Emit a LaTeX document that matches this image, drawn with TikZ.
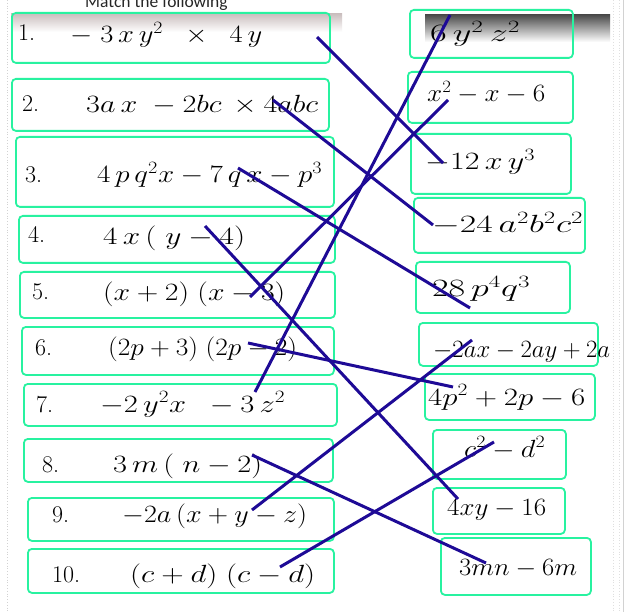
\documentclass[tikz,border=0pt]{standalone}
\usepackage{graphicx}
\usepackage{fontspec}
\newfontfamily\titlefont{Carlito}
\definecolor{boxgreen}{RGB}{40,242,160}
\definecolor{linkblue}{RGB}{30,10,150}
\newcommand{\fw}[2]{\resizebox{#1pt}{\height}{$#2$}}
\begin{document}
\begin{tikzpicture}[x=1pt,y=-1pt,
  gbox/.style={draw=boxgreen, line width=1.8pt, rounded corners=4pt, anchor=north west, inner sep=0pt},
  expr/.style={anchor=base west, inner sep=0pt, font=\fontsize{24}{28}\selectfont},
  link/.style={draw=linkblue, line width=3pt},
  banner/.style={top color=#1, bottom color=white, draw=none}]
\clip (0,0) rectangle (629,612);
\fill[white] (0,0) rectangle (629,612);
% scan artefacts
\draw[gray!35, dotted, line width=0.8pt] (7,0) -- (7,612);
\draw[gray!25, dotted, line width=0.8pt] (613,0) -- (613,612);
\draw[gray!25, dotted, line width=0.8pt] (619,0) -- (619,612);
\draw[gray!35, line width=0.8pt] (623,0) -- (623,612);
\shade[banner=red!10!gray!45] (11,14) rectangle (342,32);
\shade[banner=black!70] (425,15) rectangle (610,42);
% title
\node[anchor=base west, inner sep=0pt, font=\titlefont\fontsize{17.5}{20}\selectfont, text=black!85] (title) at (85,8) {Match the following};
% left boxes
\node[gbox, minimum width=318pt, minimum height=50pt] (L1) at (11,12) {};
\node[gbox, minimum width=317pt, minimum height=52pt] (L2) at (11,78) {};
\node[gbox, minimum width=318pt, minimum height=70pt] (L3) at (15,136) {};
\node[gbox, minimum width=316pt, minimum height=47pt] (L4) at (18,215) {};
\node[gbox, minimum width=315pt, minimum height=46pt] (L5) at (19,271) {};
\node[gbox, minimum width=312pt, minimum height=48pt] (L6) at (21,326) {};
\node[gbox, minimum width=313pt, minimum height=42pt] (L7) at (23,383) {};
\node[gbox, minimum width=309pt, minimum height=43pt] (L8) at (23,438) {};
\node[gbox, minimum width=306pt, minimum height=43pt] (L9) at (27,497) {};
\node[gbox, minimum width=306pt, minimum height=44pt] (L10) at (27,548) {};
% right boxes
\node[gbox, minimum width=163pt, minimum height=48pt] (R1) at (409,9) {};
\node[gbox, minimum width=165pt, minimum height=51pt] (R2) at (407,71) {};
\node[gbox, minimum width=160pt, minimum height=60pt] (R3) at (410,133) {};
\node[gbox, minimum width=171pt, minimum height=55pt] (R4) at (413,197) {};
\node[gbox, minimum width=154pt, minimum height=51pt] (R5) at (415,261) {};
\node[gbox, minimum width=179pt, minimum height=43pt] (R6) at (418,322) {};
\node[gbox, minimum width=170pt, minimum height=46pt] (R7) at (424,373) {};
\node[gbox, minimum width=133pt, minimum height=49pt] (R8) at (432,429) {};
\node[gbox, minimum width=132pt, minimum height=46pt] (R9) at (432,487) {};
\node[gbox, minimum width=150pt, minimum height=57pt] (R10) at (440,537) {};
% numbers
\node[expr] (n1) at (18,41) {1.};
\node[expr] (n2) at (22,112) {2.};
\node[expr] (n3) at (25,183) {3.};
\node[expr] (n4) at (28,243) {4.};
\node[expr] (n5) at (32,300) {5.};
\node[expr] (n6) at (35,355) {6.};
\node[expr] (n7) at (36,412) {7.};
\node[expr] (n8) at (42,472) {8.};
\node[expr] (n9) at (52,522) {9.};
\node[expr] (n10) at (52,582) {10.};
% left expressions
\node[expr] (e1) at (70,43) {\fw{192}{-\;3\,x\,y^2\;\;\times\;\;4\,y}};
\node[expr] (e2) at (86,113) {\fw{232}{3a\,x\;-2bc\,\times 4abc}};
\node[expr] (e3) at (97,183) {\fw{225}{4\,p\,q^2x-7\,q\,x-p^3}};
\node[expr] (e4) at (103,245) {\fw{142}{4\,x\,(\;y-4)}};
\node[expr] (e5) at (103,300) {\fw{182}{(x+2)\;(x-3)}};
\node[expr] (e6) at (108,355) {\fw{189}{(2p+3)\;(2p-2)}};
\node[expr] (e7) at (100,412) {\fw{185}{-2\,y^2x\;\;-3\,z^2}};
\node[expr] (e8) at (113,472) {\fw{149}{3\,m\,(\;n-2)}};
\node[expr] (e9) at (122,522) {\fw{185}{-2a\,(x+y-z)}};
\node[expr] (e10) at (130,582) {\fw{185}{(c+d)\;(c-d)}};
% right expressions
\node[expr] (r1) at (430,42) {\fw{90}{6\,y^{2}\,z^{2}}};
\node[expr] (r2) at (427,102) {\fw{118}{x^2-x-6}};
\node[expr] (r3) at (425,170) {\fw{110}{-12\,x\,y^{3}}};
\node[expr] (r4) at (432,233) {\fw{151}{-24\,a^{2}b^{2}c^{2}}};
\node[expr] (r5) at (432,297) {\fw{98}{28\,p^{4}q^{3}}};
\node[expr] (r6) at (433,357) {\fw{177}{-2ax-2ay+2a}};
\node[expr] (r7) at (428,405) {\fw{157}{4p^2+2p-6}};
\node[expr] (r8) at (464,457) {\fw{81}{c^{2}-d^{2}}};
\node[expr] (r9) at (447,515) {\fw{99}{4xy-16}};
\node[expr] (r10) at (459,575) {\fw{118}{3mn-6m}};
% connector end points
\coordinate (s1) at (317,37);  \coordinate (t1) at (443,163);
\coordinate (s2) at (273,100); \coordinate (t2) at (433,225);
\coordinate (s3) at (238,168); \coordinate (t3) at (470,308);
\coordinate (s4) at (205,226); \coordinate (t4) at (458,499);
\coordinate (s5) at (250,297); \coordinate (t5) at (448,100);
\coordinate (s6) at (248,343); \coordinate (t6) at (453,387);
\coordinate (s7) at (255,392); \coordinate (t7) at (450,15);
\coordinate (s8) at (252,455); \coordinate (t8) at (486,563);
\coordinate (s9) at (252,510); \coordinate (t9) at (472,340);
\coordinate (s10) at (280,567); \coordinate (t10) at (494,442);
% connectors
\foreach \i in {1,...,10} { \draw[link] (s\i) -- (t\i); }
\end{tikzpicture}
\end{document}
